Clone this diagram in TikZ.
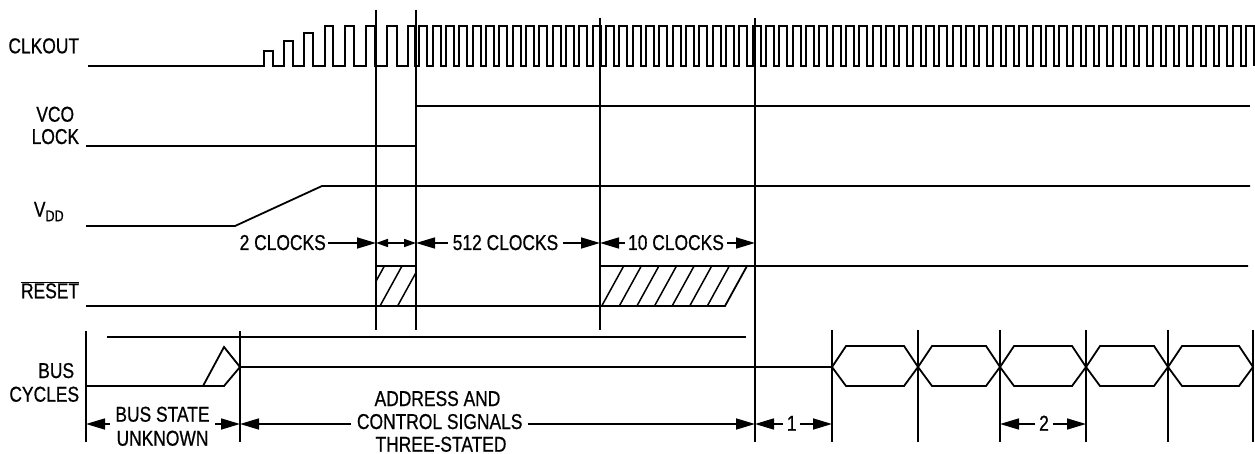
\documentclass[tikz,border=0pt]{standalone}
\usepackage{fontspec}
\setmainfont{Liberation Sans}[FakeStretch=0.81,FakeBold=0.7]
\usetikzlibrary{arrows.meta}
\begin{document}
\begin{tikzpicture}[x=1pt,y=-1pt,line width=1.8pt,line join=miter,
  lbl/.style={font=\fontsize{21.5}{23}\selectfont,inner sep=0pt},
  dim/.style={line width=1.6pt,-{Triangle[length=19pt,width=11pt]}},
  sdim/.style={line width=1.6pt,{Triangle[length=12pt,width=8pt]}-{Triangle[length=12pt,width=8pt]}},
  marker/.style={line width=1.8pt},
  sig/.style={line width=1.8pt},
  hatch/.style={line width=1.5pt}]
\useasboundingbox (0,0) rectangle (1255,454);

% ---------- labels ----------
\node[lbl,anchor=base east] (clk) at (80,53.3) {CLKOUT};
\node[lbl,anchor=base east] (vco) at (75,121.7) {VCO};
\node[lbl,anchor=base east] (lock) at (80,144) {LOCK};
\node[lbl,anchor=base west] (vdd) at (33,216.7) {V\raisebox{-4.5pt}{\fontsize{15.5}{16}\selectfont DD}};
\node[lbl,anchor=base east] (rst) at (80,298.3) {$\overline{\mbox{RESET}}$};
\node[lbl,anchor=base east] (bus) at (75,378) {BUS};
\node[lbl,anchor=base east] (cyc) at (80,401.7) {CYCLES};

% ---------- marker lines ----------
\coordinate (a1) at (376,10);  \coordinate (a1b) at (376,330);
\coordinate (a2) at (416,10);  \coordinate (a2b) at (416,330);
\coordinate (a3) at (600,18);  \coordinate (a3b) at (600,330);
\coordinate (a4) at (755,18);  \coordinate (a4b) at (755,442);
\draw[marker] (a1) -- (a1b);
\draw[marker] (a2) -- (a2b);
\draw[marker] (a3) -- (a3b);
\draw[marker] (a4) -- (a4b);
\draw[marker] (86,331) -- (86,442);
\draw[marker] (240,331) -- (240,442);
\foreach \x in {832,918,1000,1086,1168,1253}
  \draw[marker] (\x,330) -- (\x,442);

% ---------- CLKOUT ----------
\draw[sig] (88,66) -- (264,66) -- (264,51) -- (273,51) -- (273,66)
  -- (284,66) -- (284,41) -- (293,41) -- (293,66)
  -- (304,66) -- (304,33) -- (313,33) -- (313,66)
  -- (325,66) -- (325,26) -- (333,26) -- (333,66)
  -- (345,66) -- (345,26) -- (354,26) -- (354,66)
  -- (366,66) -- (366,26) -- (375,26) -- (375,66)
  -- (387,66) -- (387,26) -- (397,26) -- (397,66)
  -- (408,66) -- (408,26) -- (415,26) -- (415,66)
  \foreach \k in {0,...,62}{ -- ({round(419.3+13.333*\k)},66) -- ++(0,-40) -- ++(8,0) -- ++(0,40) };

% ---------- VCO LOCK ----------
\draw[sig] (86,146) -- (416,146) -- (416,106) -- (1250,106);

% ---------- VDD ----------
\draw[sig] (86,226) -- (235,226) -- (322,186) -- (1250,186);

% ---------- dimension row ----------
\coordinate (d1) at (376,243);
\coordinate (d2) at (416,243);
\coordinate (d3) at (600,243);
\coordinate (d4) at (755,243);
\node[lbl,anchor=base east] (t2) at (326.7,250) {2 CLOCKS};
\node[lbl,anchor=base] (t512) at (505.5,250) {512 CLOCKS};
\node[lbl,anchor=base] (t10) at (676,250) {10 CLOCKS};
\draw[dim] ([xshift=1pt]t2.east |- d1) -- (d1);
\draw[sdim] (d1) -- (d2);
\draw[dim] ([xshift=-4pt]t512.west |- d2) -- (d2);
\draw[dim] ([xshift=4pt]t512.east |- d3) -- (d3);
\draw[dim] ([xshift=-2pt]t10.west |- d3) -- (d3);
\draw[dim] ([xshift=2pt]t10.east |- d4) -- (d4);

% ---------- RESET ----------
\draw[sig] (86,306) -- (725,306) -- (747,266) -- (1248,266);
\draw[sig] (376,266) -- (416,266);
\draw[sig] (600,266) -- (747,266);
\begin{scope}
  \clip (376,266) rectangle (416,306);
  \foreach \k in {-1,0,1}
    \draw[hatch] ({380+17.6*\k},306) -- ++(22,-40);
\end{scope}
\foreach \k in {0,...,6}
  \draw[hatch] ({601.7+17.6*\k},306) -- ++(22,-40);

% ---------- BUS CYCLES ----------
\draw[sig] (107,337) -- (746,337);
\draw[sig] (86,386) -- (224,386) -- (240,367) -- (832,367);
\draw[sig] (203,386) -- (224,347) -- (240,367);
\foreach \a/\b in {832/918,918/1000,1000/1086,1086/1168,1168/1253}
  \draw[sig] (\a,367) -- ({\a+14},346) -- ({\b-14},346) -- (\b,367)
     -- ({\b-14},386) -- ({\a+14},386) -- cycle;

% ---------- bottom dimension row ----------
\coordinate (b0) at (86,424);
\coordinate (b1) at (240,424);
\coordinate (b2) at (755,424);
\coordinate (b3) at (832,424);
\coordinate (b4) at (1000,424);
\coordinate (b5) at (1086,424);
\node[lbl,anchor=base] (bs) at (162.5,421.7) {BUS STATE};
\node[lbl,anchor=base] (unk) at (162.5,445.7) {UNKNOWN};
\node[lbl,anchor=base] (ad1) at (437.5,406) {ADDRESS AND};
\node[lbl,anchor=base] (ad2) at (439.7,429) {CONTROL SIGNALS};
\node[lbl,anchor=base] (ad3) at (441,451.7) {THREE-STATED};
\node[lbl,anchor=base] (n1) at (791.7,430.7) {1};
\node[lbl,anchor=base] (n2) at (1044,430.7) {2};
\draw[dim] ([xshift=-5pt]bs.west |- b0) -- (b0);
\draw[dim] ([xshift=5pt]bs.east |- b1) -- (b1);
\draw[dim] ([xshift=-5pt]ad2.west |- b1) -- (b1);
\draw[dim] ([xshift=5pt]ad2.east |- b2) -- (b2);
\draw[dim] ([xshift=-3pt]n1.west |- b2) -- (b2);
\draw[dim] ([xshift=3pt]n1.east |- b3) -- (b3);
\draw[dim] ([xshift=-3pt]n2.west |- b4) -- (b4);
\draw[dim] ([xshift=3pt]n2.east |- b5) -- (b5);
\end{tikzpicture}
\end{document}
